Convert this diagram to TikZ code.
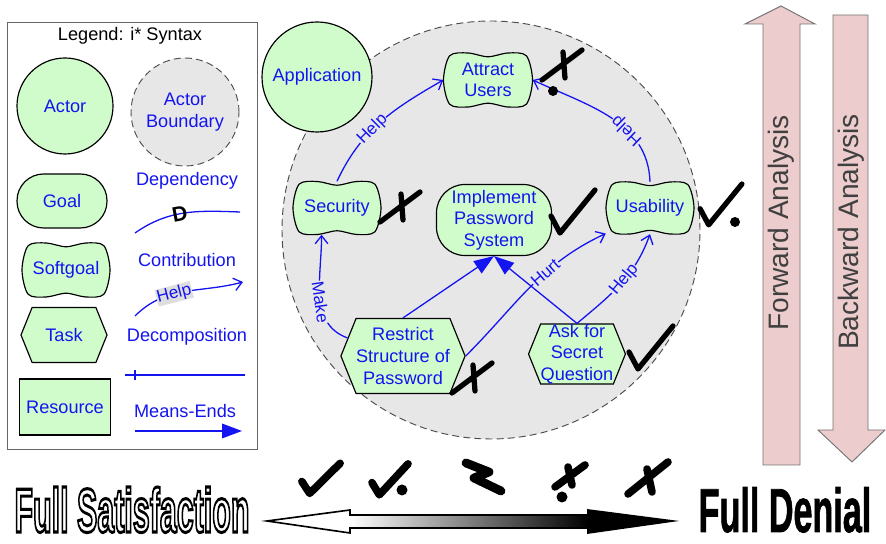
\documentclass[tikz,border=0pt]{standalone}
\usepackage{fontspec}
\setmainfont{Liberation Sans}
\newfontfamily\heavyfont{Liberation Sans Bold}
\newfontfamily\denialfont{Liberation Sans Bold}[FakeBold=1.5]
\usetikzlibrary{arrows.meta,shapes.symbols}

\definecolor{istargreen}{RGB}{208,252,204}
\definecolor{istarblue}{RGB}{20,20,240}
\definecolor{boundgray}{RGB}{231,231,231}
\definecolor{arrowpink}{RGB}{236,204,204}

\newcommand{\nodefont}{\fontsize{15.5}{18.5}\selectfont}
\newcommand{\lblfont}{\fontsize{14.5}{15}\selectfont}

\tikzset{
	istar/.style={draw, line width=1pt, fill=istargreen, text=istarblue, align=center, font=\nodefont, inner sep=0pt},
	actor/.style={istar, circle},
	goal/.style={istar, rounded corners=0.8cm},
	task/.style={istar, signal, signal to=west and east, signal pointer angle=136},
	resource/.style={istar, line width=1.5pt},
	sgline/.style={draw, line width=1pt, fill=istargreen},
	sgtext/.style={text=istarblue, align=center, font=\nodefont, inner sep=0pt},
	boundary/.style={draw=black!70, dash pattern=on 6pt off 3.5pt, fill=boundgray, line width=0.8pt},
	legtext/.style={text=istarblue, font=\nodefont},
	link/.style={draw=istarblue, line width=1.1pt},
	contrib/.style={link, -{Straight Barb[length=2.4mm,width=3.8mm]}},
	meansend/.style={link, -{Triangle[length=6mm,width=4.4mm]}},
	lbl/.style={text=istarblue, fill=boundgray, inner sep=0.5pt, font=\lblfont, sloped},
	satline/.style={line width=4.5pt, line cap=round, line join=round},
	bigsat/.style={line width=6.5pt},
	anarrow/.style={draw=black!55, fill=arrowpink, line width=0.8pt}
}

% softgoal: name, centre, half width, half height, text
\newcommand{\softgoal}[5]{%
	\draw[sgline,shift={#2},xscale=#3,yscale=#4] plot [smooth cycle] coordinates
	{(-0.86,0.9) (-0.45,1) (0,0.86) (0.45,1) (0.86,0.9) (1,0) (0.86,-0.9) (0.45,-1) (0,-0.86) (-0.45,-1) (-0.86,-0.9) (-1,0)};
	\node[sgtext, minimum width=#3*0.06cm, minimum height=#4*0.06cm] (#1) at #2 {#5};
}
% satisfaction labels
\newcommand{\satmark}[2][]{\draw[satline,shift={#2},#1] (-22,-5) -- (-13,-22) -- (22,21);}
\newcommand{\denmark}[2][]{\draw[satline,shift={#2},#1] (-20,-15) -- (20,15) (1,13) -- (3,-13);}

\begin{document}
\begin{tikzpicture}[x=0.03cm, y=0.03cm]
	\useasboundingbox (0,0) rectangle (886,544);

	% legend
	\draw[line width=0.8pt, draw=black!60] (7,95) rectangle (257,522);
	\node[font=\nodefont] (legtitle) at (130,508) {Legend: i* Syntax};
	\node[actor, minimum size=2.88cm] (legactor) at (65,438) {Actor};
	\node[boundary, circle, minimum size=3.24cm, text=istarblue, align=center, font=\nodefont] (legbound) at (185,432) {Actor\\Boundary};
	\node[goal, minimum width=2.7cm, minimum height=1.62cm] (leggoal) at (62,343) {Goal};
	\softgoal{legsoft}{(66,274)}{44}{27}{Softgoal}
	\node[task, minimum width=2.58cm, minimum height=1.65cm] (legtask) at (64,209) {Task};
	\node[resource, minimum width=2.73cm, minimum height=1.68cm] (legres) at (65,137) {Resource};

	\node[legtext] (legdep) at (187,363) {Dependency};
	\coordinate (depa) at (135,311);
	\coordinate (depb) at (240,332);
	\draw[link] (depa) to[out=35,in=178] node[pos=0.45, sloped, font=\heavyfont\fontsize{18}{18}\selectfont] {D} (depb);

	\node[legtext] (legcon) at (187,284) {Contribution};
	\coordinate (cona) at (135,228);
	\coordinate (conb) at (243,262);
	\draw[contrib] (cona) to[out=45,in=195] node[lbl, pos=0.4, fill=black!13] {Help} (conb);

	\node[legtext] (legdec) at (187,207) {Decomposition};
	\coordinate (deca) at (125,169);
	\coordinate (decb) at (245,169);
	\draw[link] (deca) -- (decb);
	\draw[link] ([shift={(10,-5)}]deca) -- ([shift={(10,5)}]deca);

	\node[legtext] (legme) at (185,133) {Means-Ends};
	\coordinate (mea) at (135,113);
	\coordinate (meb) at (242,113);
	\draw[meansend] (mea) -- (meb);

	% the application actor
	\draw[boundary] (491,314) circle (209);
	\node[actor, minimum size=3.3cm] (app) at (317,467) {Application};

	\softgoal{attract}{(488,464)}{44.5}{27}{Attract\\Users}
	\softgoal{security}{(337,336)}{44}{26.5}{Security}
	\softgoal{usability}{(650,336)}{44}{26}{Usability}
	\node[goal, rounded corners=0.85cm, minimum width=3.45cm, minimum height=2.13cm] (implement) at (494,324) {Implement\\Password\\System};
	\node[task, minimum width=3.42cm, minimum height=2.25cm] (restrict) at (403,188) {Restrict\\Structure of\\Password};
	\node[task, minimum width=2.76cm, minimum height=1.8cm] (ask) at (577,190) {Ask for\\Secret\\Question};

	\draw[contrib] (security.north) to[out=65,in=210] node[lbl, pos=0.42] {Help} (attract.west);
	\draw[contrib] (usability.north) to[out=92,in=-25] node[lbl, pos=0.37, allow upside down] {Help} (attract.east);
	\draw[contrib] (restrict.162) to[out=160,in=270] node[lbl, pos=0.45] {Make} (security.-120);
	\draw[contrib] (restrict.east) to[out=45,in=205] node[lbl, pos=0.62] {Hurt} (usability.210);
	\draw[contrib] (ask.north) to[out=40,in=-110] node[lbl, pos=0.55] {Help} (usability.south);
	\draw[meansend] (restrict.north) -- (implement.south);
	\draw[meansend] (ask.north) -- (implement.south);

	% evaluation labels
	\denmark{(562,479)}
	\fill (553,453) circle (5);
	\denmark{(400,337)}
	\satmark{(573,333)}
	\satmark[scale=0.95]{(721,340)}
	\fill (735,322) circle (5);
	\denmark{(472,166)}
	\satmark{(651,197)}

	% scale of values
	\satmark[bigsat, xscale=0.87, yscale=0.7]{(321,66)}
	\satmark[bigsat, xscale=0.82, yscale=0.72]{(390,65)}
	\fill (402,54) circle (5.5);
	\draw[satline, line width=7.5pt] (466,81) -- (489,72) -- (474,66) -- (501,53);
	\draw[satline, bigsat] (555,57) -- (585,79) (568,77) -- (572,59);
	\fill (562,47) circle (5.5);
	\draw[satline, bigsat] (628,50) -- (668,82) (647,75) -- (652,52);

	\shade[left color=white, right color=black] (350,16) rectangle (588,29);
	\fill (588,34) -- (673,23) -- (588,11) -- cycle;
	\draw[line width=1.4pt, line join=miter] (267,23) -- (350,34) -- (350,29) -- (588,29) -- (588,34) -- (673,23) -- (588,11) -- (588,16) -- (350,16) -- (350,11) -- cycle;

	\node[anchor=base, inner sep=0pt] (fullsat) at (132,12) {\fontsize{53}{53}\selectfont\scalebox{0.49}[1]{\heavyfont\color{white}\special{pdf:literal direct 2 Tr 2.6 w 0 G}Full Satisfaction\special{pdf:literal direct 0 Tr}}};
	\node[anchor=base, inner sep=0pt] (fulldenial) at (785,12) {\fontsize{53}{53}\selectfont\scalebox{0.55}[1]{\denialfont Full Denial}};

	% analysis directions
	\draw[anarrow] (763,79) -- (763,520) -- (745,520) -- (781,538) -- (815,520) -- (800,520) -- (800,79) -- cycle;
	\draw[anarrow] (833,529) -- (833,114) -- (818,114) -- (852,82) -- (885,114) -- (868,114) -- (868,529) -- cycle;
	\node[rotate=90, font=\fontsize{24}{24}\selectfont, text=black!75] (fwdtxt) at (781,321) {Forward Analysis};
	\node[rotate=90, font=\fontsize{24}{24}\selectfont, text=black!75] (bwdtxt) at (851,312) {Backward Analysis};
\end{tikzpicture}
\end{document}
